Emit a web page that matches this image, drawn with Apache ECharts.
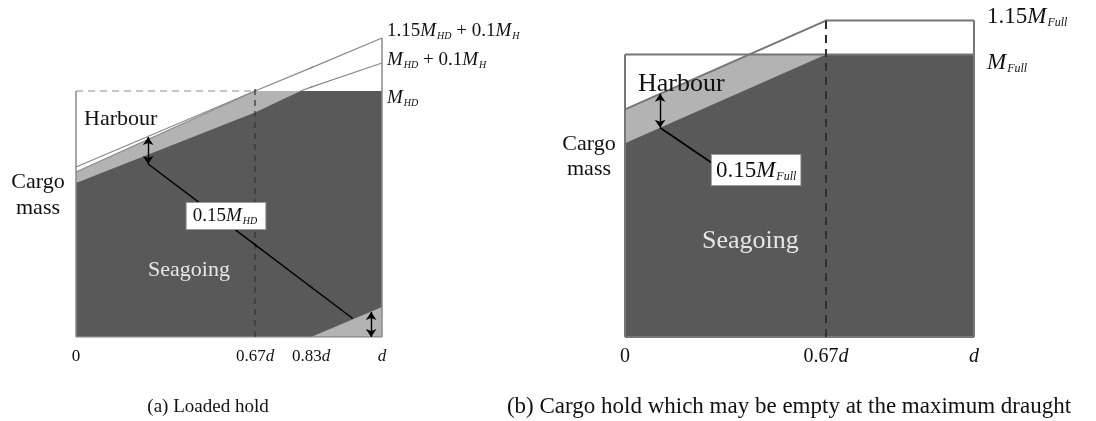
<!DOCTYPE html>
<html>
<head>
<meta charset="utf-8">
<script src="https://cdn.jsdelivr.net/npm/echarts@6/dist/echarts.min.js"></script>
<style>
  html, body { margin: 0; padding: 0; background: #ffffff; }
  #chart { width: 1096px; height: 421px; }
</style>
</head>
<body>
<div id="chart"></div>
<script>
// ---- draught axis: breakpoints as fractions of d ----
const ticksA = [0, 0.67, 0.83, 1];
const tickLabelsA = ['0', '0.67{i|d}', '0.83{i|d}', '{i|d}'];
const ticksB = [0, 0.67, 1];
const tickLabelsB = ['0', '0.67{i|d}', '{i|d}'];

// ---- (a) loaded hold, cargo mass as a fraction of M_HD ----
const aBase = -0.23;                                              // floor of the diagram
const aUpperLimit = [[0, 0.62], [0.67, 1.0], [0.83, 1.116], [1, 1.265]];   // 1.15 M_HD + 0.1 M_H
const aHarbourTop = [[0, 0.595], [0.67, 1.0], [1, 1.0]];
const aSeaTop = [[0, 0.54], [0.67, 0.892], [0.80, 1.0], [1, 1.0]];
const aMidLimit = [[0.80, 1.0], [0.83, 1.019], [1, 1.14]];              // M_HD + 0.1 M_H
const aSeaLow = [[0.83, aBase], [1, -0.08]];
const aArrows = [[0.27, 0.635, 0.77], [0.974, -0.105, aBase]];
const aLeader = [[0.27, 0.635], [0.67, 0.232], [0.83, 0.02], [0.93, -0.1375]];
const aNote = [0.5615, 0.375];

// ---- (b) hold which may be empty, cargo mass as a fraction of M_Full ----
const bBase = -0.25;
const bUpperLimit = [[0, 0.757], [0.67, 1.15], [1, 1.15]];              // 1.15 M_Full
const bHarbourTop = [[0, 0.757], [0.413, 1.0], [1, 1.0]];
const bSeaTop = [[0, 0.607], [0.67, 1.0], [1, 1.0]];
const bArrow = [0.117, 0.676, 0.826];
const bLeader = [[0.117, 0.676], [0.29, 0.52]];
const bNote = [0.437, 0.489];

const SERIF = '"Liberation Serif", "Times New Roman", serif';
const DARK = '#595959';
const LIGHT = '#b3b3b3';
const EDGE_A = '#8a8a8a';
const EDGE_B = '#767676';

const grids = [], xAxes = [], yAxes = [], series = [];

function richMath(size, subSize) {
  return {
    i: { fontFamily: SERIF, fontSize: size, fontStyle: 'italic', color: '#111' },
    m: { fontFamily: SERIF, fontSize: size, fontStyle: 'italic', color: '#111' },
    s: { fontFamily: SERIF, fontSize: subSize, fontStyle: 'italic', color: '#111', padding: [Math.round(size * 0.55), 0, 0, 1] },
    n: { fontFamily: SERIF, fontSize: size, color: '#111' }
  };
}

// One grid per stretch between breakpoints; the schematic is drawn piecewise along d.
function addPanel(segs, ticks, labels, yMin, yMax, top, height, fontSize, margin) {
  const idx = [];
  segs.forEach((s, k) => {
    const i = grids.length;
    grids.push({ left: s.left, width: s.width, top: top, height: height, containLabel: false, outerBoundsMode: 'none' });
    const own = ticks.filter(t => t >= s.min && t <= s.max && (k === 0 || t > s.min));
    xAxes.push({
      type: 'value', gridIndex: i, min: s.min, max: s.max,
      axisLine: { show: false }, axisTick: { show: false }, splitLine: { show: false },
      axisLabel: {
        show: true, customValues: own, margin: margin,
        showMinLabel: true, showMaxLabel: true,
        fontFamily: SERIF, fontSize: fontSize, color: '#111',
        formatter: v => {
          let j = 0;
          ticks.forEach((t, q) => { if (Math.abs(t - v) < Math.abs(ticks[j] - v)) j = q; });
          return labels[j];
        },
        rich: richMath(fontSize, fontSize)
      }
    });
    yAxes.push({ type: 'value', gridIndex: i, min: yMin, max: yMax, show: false });
    idx.push(i);
  });
  return idx;
}

const segA = addPanel([
  { min: ticksA[0], max: ticksA[1], left: 76, width: 179 },
  { min: ticksA[1], max: ticksA[2], left: 255, width: 56 },
  { min: ticksA[2], max: ticksA[3], left: 311, width: 71 }
], ticksA, tickLabelsA, aBase, 1.35, 21, 316, 17, 11);

const segB = addPanel([
  { min: ticksB[0], max: ticksB[1], left: 625, width: 201 },
  { min: ticksB[1], max: ticksB[2], left: 826, width: 148 }
], ticksB, tickLabelsB, bBase, 1.2, 9.3, 327.7, 20, 10);

function put(i, s) {
  s.xAxisIndex = i; s.yAxisIndex = i; s.silent = true; s.animation = false;
  series.push(s);
}
function area(idx, data, color, z) {
  idx.forEach(i => put(i, {
    type: 'line', data: data, symbol: 'none', z: z, clip: true,
    lineStyle: { width: 0 }, areaStyle: { color: color, opacity: 1, origin: 'start' }
  }));
}
function stroke(idx, data, color, width, type, z, clip) {
  idx.forEach(i => put(i, {
    type: 'line', data: data, symbol: 'none', z: z, clip: clip !== false,
    lineStyle: { color: color, width: width, type: type || 'solid', cap: 'butt' }
  }));
}
function arrows(i, list, z) {
  put(i, {
    type: 'lines', coordinateSystem: 'cartesian2d', z: z,
    symbol: ['arrow', 'arrow'], symbolSize: 8,
    lineStyle: { color: '#000', width: 1.4, opacity: 1 },
    data: list.map(a => ({ coords: [[a[0], a[1]], [a[0], a[2]]] }))
  });
}
function label(i, point, text, opts) {
  put(i, {
    type: 'scatter', symbolSize: 0, z: 20, clip: false, data: [point],
    itemStyle: { opacity: 1 },
    label: Object.assign({ show: true, formatter: text, opacity: 1 }, opts)
  });
}

// ---------- panel (a) ----------
area(segA, aHarbourTop, LIGHT, 1);
area(segA, aSeaTop, DARK, 2);
area([segA[2]], aSeaLow, LIGHT, 3);
stroke(segA, aUpperLimit, EDGE_A, 1.3, 'solid', 5);
stroke([segA[0]], aHarbourTop.slice(0, 2), EDGE_A, 1.3, 'solid', 5);
stroke(segA.slice(1), aMidLimit, EDGE_A, 1.3, 'solid', 5);
segA.forEach((i, k) => stroke([i], [[ticksA[k], aBase], [ticksA[k + 1], aBase]], EDGE_A, 1.5, 'solid', 5));
stroke([segA[0]], [[0, aBase], [0, 1]], EDGE_A, 1.5, 'solid', 5, false);
stroke([segA[2]], [[1, aBase], [1, aUpperLimit[3][1]]], EDGE_A, 1.5, 'solid', 5, false);
stroke([segA[0]], [[0, 1], [ticksA[1], 1]], '#8c8c8c', 1.2, [7, 5], 5, false);
stroke([segA[1]], [[ticksA[1], aBase], [ticksA[1], 1.01]], '#383838', 1.3, [6, 5], 6, false);
segA.forEach(i => stroke([i], aLeader, '#000', 1.5, 'solid', 7));
arrows(segA[0], [aArrows[0]], 8);
arrows(segA[2], [aArrows[1]], 8);
label(segA[0], aNote, '{n|0.15}{m|M}{s|HD}', {
  position: 'inside', backgroundColor: '#ffffff', borderColor: '#9a9a9a', borderWidth: 1,
  padding: [3, 8, 3, 6], rich: richMath(19, 10)
});
label(segA[2], [1, aUpperLimit[3][1]], '{n|1.15}{m|M}{s|HD}{n| + 0.1}{m|M}{s|H}',
  { position: 'right', distance: 5, offset: [0, -7], rich: richMath(19, 10) });
label(segA[2], [1, aMidLimit[2][1]], '{m|M}{s|HD}{n| + 0.1}{m|M}{s|H}',
  { position: 'right', distance: 5, offset: [0, -3], rich: richMath(19, 10) });
label(segA[2], [1, 1.0], '{m|M}{s|HD}',
  { position: 'right', distance: 5, offset: [0, 7], rich: richMath(19, 10) });

// ---------- panel (b) ----------
area(segB, bHarbourTop, LIGHT, 1);
area(segB, bSeaTop, DARK, 2);
stroke(segB, bUpperLimit, EDGE_B, 2, 'solid', 5);
segB.forEach(i => stroke([i], [[0, 1], [1, 1]], EDGE_B, 2, 'solid', 5));
segB.forEach((i, k) => stroke([i], [[ticksB[k], bBase], [ticksB[k + 1], bBase]], EDGE_B, 2, 'solid', 5));
stroke([segB[0]], [[0, bBase], [0, 1]], EDGE_B, 2, 'solid', 5, false);
stroke([segB[1]], [[1, bBase], [1, bUpperLimit[2][1]]], EDGE_B, 2, 'solid', 5, false);
stroke([segB[1]], [[ticksB[1], bBase], [ticksB[1], bUpperLimit[1][1]]], '#303030', 2, [8, 6], 6, false);
stroke([segB[0]], bLeader, '#000', 1.6, 'solid', 7);
arrows(segB[0], [bArrow], 8);
label(segB[0], bNote, '{n|0.15}{m|M}{s|Full}', {
  position: 'inside', backgroundColor: '#ffffff', borderColor: '#9a9a9a', borderWidth: 1,
  padding: [3, 4, 2, 4], rich: richMath(23, 12)
});
label(segB[1], [1, bUpperLimit[2][1]], '{n|1.15}{m|M}{s|Full}',
  { position: 'right', distance: 13, offset: [0, -4], rich: richMath(23, 12) });
label(segB[1], [1, 1.0], '{m|M}{s|Full}',
  { position: 'right', distance: 13, offset: [0, 8], rich: richMath(23, 12) });

// ---------- free text ----------
function txt(x, y, text, size, opts) {
  return {
    type: 'text', x: x, y: y, silent: true, z: 50,
    style: Object.assign({
      text: text, font: size + 'px ' + SERIF, fill: '#111',
      align: 'left', verticalAlign: 'middle'
    }, opts || {})
  };
}

const option = {
  backgroundColor: '#ffffff',
  animation: false,
  grid: grids, xAxis: xAxes, yAxis: yAxes, series: series,
  graphic: [
    txt(38, 195, 'Cargo\nmass', 22, { align: 'center', lineHeight: 26 }),
    txt(84, 119, 'Harbour', 22),
    txt(148, 270, 'Seagoing', 22, { fill: '#e6e6e6' }),
    txt(589, 157, 'Cargo\nmass', 22, { align: 'center', lineHeight: 25 }),
    txt(638, 84, 'Harbour', 26),
    txt(702, 241, 'Seagoing', 26, { fill: '#e6e6e6' }),
    txt(208, 407, '(a) Loaded hold', 19, { align: 'center' }),
    txt(789, 407, '(b) Cargo hold which may be empty at the maximum draught', 23, { align: 'center' })
  ]
};

const chart = echarts.init(document.getElementById('chart'), null, { renderer: 'canvas' });
chart.setOption(option);
</script>
</body>
</html>
